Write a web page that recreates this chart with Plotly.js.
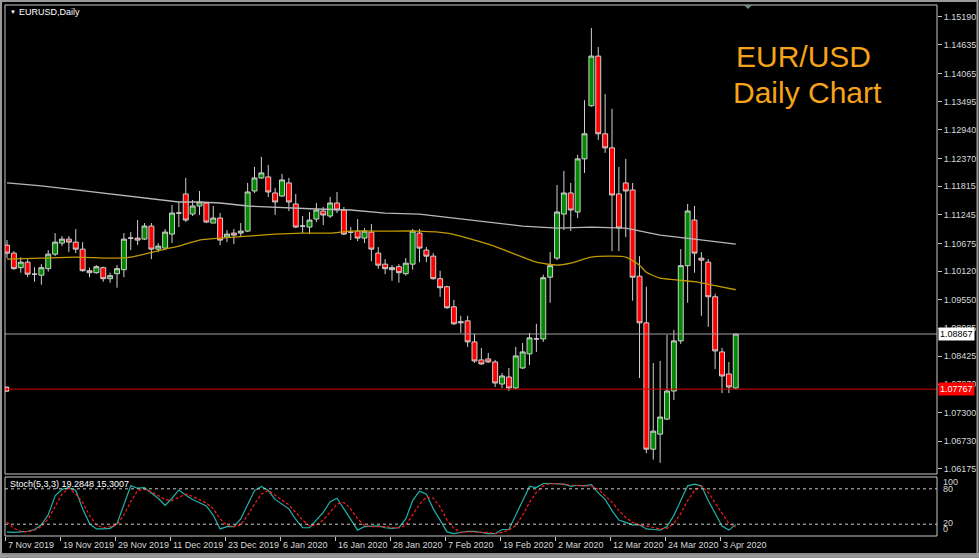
<!DOCTYPE html>
<html><head><meta charset="utf-8">
<script src="https://cdn.plot.ly/plotly-3.0.1.min.js"></script>
<style>html,body{margin:0;padding:0;background:#000;overflow:hidden}#chart{width:979px;height:558px}</style>
</head><body><div id="chart"></div>
<script>
// ---- data ----
const openP = [1.1064,1.1048,1.1019,1.1030,1.1006,1.1004,1.1017,1.1046,1.1068,1.1076,
1.1070,1.1056,1.1013,1.1009,1.1019,1.0997,1.1007,1.1015,1.1078,1.1078,
1.1076,1.1102,1.1056,1.1058,1.1086,1.1128,1.1166,1.1126,1.1142,1.1148,
1.1108,1.1118,1.1080,1.1088,1.1088,1.1092,1.1172,1.1198,1.1200,1.1168,
1.1162,1.1188,1.1146,1.1102,1.1100,1.1116,1.1132,1.1122,1.1148,1.1134,
1.1090,1.1092,1.1078,1.1090,1.1048,1.1026,1.1015,1.1021,1.1007,1.1026,
1.1088,1.1054,1.1042,1.0997,1.0981,1.0941,1.0909,1.0913,1.0871,1.0835,
1.0837,1.0831,1.0787,1.0801,1.0779,1.0819,1.0847,1.0877,1.0877,1.1000,
1.1038,1.1126,1.1168,1.1130,1.1236,1.1342,1.1441,1.1286,1.1258,1.1166,
1.1188,1.1174,1.1002,1.0909,1.0657,1.0687,1.0717,1.0773,1.0873,1.1023,
1.1114,1.1038,1.1030,1.0961,1.0851,1.0807,1.0779];
const highP = [1.1074,1.1052,1.1040,1.1036,1.1020,1.1026,1.1054,1.1088,1.1082,1.1082,
1.1096,1.1070,1.1019,1.1024,1.1021,1.1009,1.1024,1.1088,1.1090,1.1114,
1.1108,1.1108,1.1068,1.1096,1.1144,1.1150,1.1198,1.1154,1.1172,1.1150,
1.1142,1.1128,1.1094,1.1096,1.1108,1.1188,1.1220,1.1240,1.1224,1.1178,
1.1206,1.1198,1.1166,1.1122,1.1130,1.1148,1.1140,1.1160,1.1170,1.1140,
1.1100,1.1116,1.1098,1.1106,1.1060,1.1036,1.1024,1.1026,1.1038,1.1096,
1.1096,1.1060,1.1048,1.1013,1.0983,1.0955,1.0923,1.0923,1.0887,1.0859,
1.0849,1.0835,1.0809,1.0819,1.0861,1.0869,1.0889,1.0907,1.1005,1.1050,
1.1184,1.1212,1.1188,1.1244,1.1353,1.1497,1.1459,1.1365,1.1336,1.1220,
1.1236,1.1188,1.1042,1.0981,1.0829,1.0833,1.0885,1.0895,1.1056,1.1146,
1.1142,1.1050,1.1036,1.0967,1.0859,1.0831,1.0887];
const lowP = [1.1038,1.1015,1.1009,1.1000,1.0991,1.0985,1.1011,1.1042,1.1062,1.1050,
1.1048,1.1011,1.1000,1.1007,1.0991,1.0989,1.0979,1.1000,1.1054,1.1064,
1.1074,1.1036,1.1050,1.1054,1.1068,1.1100,1.1110,1.1122,1.1124,1.1108,
1.1108,1.1064,1.1070,1.1066,1.1080,1.1090,1.1168,1.1196,1.1160,1.1124,
1.1160,1.1132,1.1098,1.1088,1.1086,1.1110,1.1104,1.1118,1.1128,1.1084,
1.1074,1.1072,1.1068,1.1032,1.1017,1.1006,1.0993,1.0989,1.1003,1.1015,
1.1030,1.1030,1.0995,1.0961,1.0937,1.0905,1.0889,1.0861,1.0829,1.0825,
1.0829,1.0781,1.0779,1.0773,1.0777,1.0817,1.0825,1.0851,1.0871,1.0949,
1.1034,1.1094,1.1092,1.1118,1.1208,1.1340,1.1274,1.1248,1.1052,1.1052,
1.1080,1.0953,1.0799,1.0649,1.0636,1.0630,1.0715,1.0755,1.0867,1.0949,
1.1009,1.0923,1.0901,1.0817,1.0769,1.0769,1.0777];
const closeP = [1.1048,1.1017,1.1030,1.1006,1.1006,1.1019,1.1046,1.1070,1.1076,1.1070,
1.1056,1.1013,1.1009,1.1021,1.0997,1.1003,1.1017,1.1076,1.1078,1.1074,
1.1102,1.1056,1.1062,1.1090,1.1128,1.1128,1.1114,1.1142,1.1150,1.1110,
1.1118,1.1074,1.1086,1.1084,1.1092,1.1170,1.1198,1.1208,1.1170,1.1150,
1.1194,1.1150,1.1100,1.1102,1.1114,1.1134,1.1124,1.1148,1.1134,1.1086,
1.1090,1.1078,1.1092,1.1056,1.1024,1.1017,1.1019,1.1009,1.1028,1.1092,
1.1058,1.1042,1.0997,1.0979,1.0939,1.0907,1.0911,1.0871,1.0833,1.0827,
1.0831,1.0789,1.0803,1.0779,1.0843,1.0851,1.0879,1.0877,1.0999,1.1023,
1.1130,1.1168,1.1134,1.1236,1.1286,1.1441,1.1286,1.1258,1.1164,1.1098,
1.1172,1.1000,1.0909,1.0657,1.0693,1.0721,1.0773,1.0873,1.1023,1.1132,
1.1048,1.1034,1.0961,1.0853,1.0803,1.0781,1.08867];

const maSlowBars = [0,5,10,15,20,25,28,31,35,38,42,45,50,55,60,65,70,75,80,85,90,95,100,106];
const maSlow = [1.1188,1.1182,1.1174,1.1166,1.1158,1.1150,1.1150,1.1148,1.1142,1.1140,1.1138,1.1136,1.1134,1.1128,1.1126,1.1118,1.1110,1.1102,1.1098,1.1100,1.1098,1.1084,1.1076,1.1066];
const maFast = [1.1036,1.1038,1.1040,1.1038,1.1040,1.1046,1.1056,1.1062,1.1074,1.1078,1.1082,1.1086,1.1088,1.1088,1.1092,1.1092,1.1092,1.1088,1.1078,1.1066,1.1056,1.1040,1.1030,1.1024,1.1028,1.1040,1.1042,1.1040,1.1024,1.1010,1.0998,1.0995,1.0991,1.0983,1.0975];
const maFastBars = [0,5,10,15,18,20,23,25,28,31,35,39,43,47,50,55,60,64,67,70,72,75,77,80,82,85,88,90,92,93,95,97,100,103,106];

const stochK = [7,6,7,8,11,19,36,68,79,82,77,46,21,12,12,13,21,54,85,81,
82,73,64,52,64,78,69,62,57,51,35,12,16,16,29,54,77,84,77,62,
54,46,28,14,14,27,40,58,64,46,27,10,16,17,17,14,13,14,29,60,
76,71,46,27,7,4,6,8,8,6,4,4,11,11,35,60,84,82,89,89,
89,88,84,86,85,87,73,62,43,27,23,19,19,12,11,10,16,35,60,85,
88,85,60,38,17,10,19.2848];
const stochD = [24,13,8,7,10,16,29,49,71,81,71,57,35,19,14,16,19,36,58,77,
79,75,68,62,60,66,71,67,62,56,46,29,18,16,19,35,54,71,77,69,
62,53,40,27,17,19,27,41,54,57,46,29,18,16,16,16,14,14,18,35,
54,66,64,49,27,13,6,7,7,7,6,4,6,10,18,35,57,74,85,89,
89,88,86,85,85,85,79,68,57,43,31,23,19,17,14,12,13,21,38,60,
77,85,74,57,38,21,15.3007];

const priceTicks = [1.15190,1.14635,1.14065,1.13495,1.12940,1.12370,1.11815,1.11245,1.10675,1.10120,1.09550,1.08985,1.08425,1.07870,1.07300,1.06730,1.06175];
const tickBars = [0,8,16,24,32,40,48,56,64,72,80,88,96,104];
const tickLabels = ["7 Nov 2019","19 Nov 2019","29 Nov 2019","11 Dec 2019","23 Dec 2019","6 Jan 2020","16 Jan 2020","28 Jan 2020","7 Feb 2020","19 Feb 2020","2 Mar 2020","12 Mar 2020","24 Mar 2020","3 Apr 2020"];
const stochLevels = [100,80,20,0];
const stochLevelShift = [-5,0,1,7];
const bidPrice = 1.08867;
const linePrice = 1.07767;

// ---- layout helpers ----
const W=979,H=558,L=5,R=42,T=5,B=22;
const PW=W-L-R, PH=H-T-B;
const px = v => (v-L)/PW;
const py = v => (H-B-v)/PH;
const FONT = "Liberation Sans, Arial, sans-serif";
const TXT = "#d8d8d8";
const bars = openP.map((_,i)=>i);

const traces = [
  {type:'scatter',mode:'lines',x:maSlowBars,y:maSlow,line:{color:'#b8b8b8',width:1.3},hoverinfo:'skip',xaxis:'x',yaxis:'y'},
  {type:'scatter',mode:'lines',x:maFastBars,y:maFast,line:{color:'#c09a00',width:1.3,shape:'spline',smoothing:0.6},hoverinfo:'skip',xaxis:'x',yaxis:'y'},
  {type:'candlestick',x:bars,open:openP,high:highP,low:lowP,close:closeP,xaxis:'x',yaxis:'y',
   increasing:{line:{color:'#d0d0d0',width:1},fillcolor:'#008a00'},
   decreasing:{line:{color:'#d0d0d0',width:1},fillcolor:'#ff0000'},
   whiskerwidth:0,hoverinfo:'skip'},
  {type:'scatter',mode:'lines',x:bars,y:stochK,line:{color:'#20b2aa',width:1.2},hoverinfo:'skip',xaxis:'x',yaxis:'y2'},
  {type:'scatter',mode:'lines',x:bars,y:stochD,line:{color:'#ff1a1a',width:1.2,dash:'3px,2px'},hoverinfo:'skip',xaxis:'x',yaxis:'y2'},
  {type:'scatter',mode:'markers',x:[-0.05],y:[linePrice],marker:{symbol:'square',size:4,color:'#ff0000',line:{color:'#ffffff',width:1}},hoverinfo:'skip',xaxis:'x',yaxis:'y'}
];

const shapes = [
  {type:'line',xref:'paper',x0:0,x1:1,yref:'y',y0:bidPrice,y1:bidPrice,line:{color:'#a0a0a0',width:1}},
  {type:'line',xref:'paper',x0:0,x1:1,yref:'y',y0:linePrice,y1:linePrice,line:{color:'#e00000',width:1}},
  {type:'line',xref:'paper',x0:0,x1:1,yref:'y2',y0:stochLevels[1],y1:stochLevels[1],line:{color:'#c8c8c8',width:1,dash:'3px,3px'}},
  {type:'line',xref:'paper',x0:0,x1:1,yref:'y2',y0:stochLevels[2],y1:stochLevels[2],line:{color:'#c8c8c8',width:1,dash:'3px,3px'}},
  {type:'rect',xref:'paper',yref:'paper',x0:0,x1:1,y0:py(474),y1:py(5),line:{color:'#c8c8c8',width:1}},
  {type:'rect',xref:'paper',yref:'paper',x0:0,x1:1,y0:0,y1:py(477),line:{color:'#c8c8c8',width:1}},
  {type:'rect',xref:'paper',yref:'paper',x0:px(0),x1:px(979),y0:py(558),y1:py(553),fillcolor:'#8a8a8a',line:{width:0}},
  {type:'rect',xref:'paper',yref:'paper',x0:px(1),x1:px(977.5),y0:py(556),y1:py(1),line:{color:'#9a9a9a',width:2}},
  {type:'path',xref:'paper',yref:'paper',path:`M ${px(744)} ${py(5)} L ${px(752)} ${py(5)} L ${px(748)} ${py(9)} Z`,fillcolor:'#6e8a8a',line:{width:0}}
];

const annotations = [
  {xref:'paper',yref:'paper',x:px(8),y:py(12),xanchor:'left',yanchor:'middle',showarrow:false,text:'\u25BC',font:{family:FONT,size:6,color:'#ffffff'}},
  {xref:'paper',yref:'paper',x:px(17),y:py(12),xanchor:'left',yanchor:'middle',showarrow:false,text:'EURUSD,Daily',font:{family:FONT,size:9,color:'#ffffff'}},
  {xref:'paper',yref:'paper',x:px(734),y:py(56),xanchor:'left',yanchor:'middle',showarrow:false,text:'EUR/USD',font:{family:FONT,size:30,color:'#f5a31a'}},
  {xref:'paper',yref:'paper',x:px(731),y:py(93),xanchor:'left',yanchor:'middle',showarrow:false,text:'Daily Chart',font:{family:FONT,size:30,color:'#f5a31a'}},
  {xref:'paper',yref:'paper',x:px(8),y:py(484),xanchor:'left',yanchor:'middle',showarrow:false,text:'Stoch(5,3,3) '+stochK[stochK.length-1].toFixed(4)+' '+stochD[stochD.length-1].toFixed(4),font:{family:FONT,size:9,color:'#ffffff'}},
  {xref:'paper',yref:'y',x:px(938),y:bidPrice,xanchor:'left',yanchor:'middle',showarrow:false,text:bidPrice.toFixed(5),bgcolor:'#ffffff',borderpad:1,font:{family:FONT,size:9,color:'#000000'}},
  {xref:'paper',yref:'y',x:px(938),y:linePrice,xanchor:'left',yanchor:'middle',showarrow:false,text:linePrice.toFixed(5),bgcolor:'#ff0000',borderpad:1,font:{family:FONT,size:9,color:'#ffffff'}}
];
stochLevels.forEach((v,i)=>annotations.push({xref:'paper',yref:'y2',x:px(941),y:v,yshift:stochLevelShift[i],xanchor:'left',yanchor:'middle',showarrow:false,text:String(v),font:{family:FONT,size:9,color:TXT}}));
tickBars.forEach((b,i)=>annotations.push({xref:'x',yref:'paper',x:b-0.15,y:py(545),xanchor:'left',yanchor:'middle',showarrow:false,text:tickLabels[i],font:{family:FONT,size:9,color:TXT}}));

const layout = {
  width:W,height:H,margin:{l:L,r:R,t:T,b:B,pad:0},
  paper_bgcolor:'#000000',plot_bgcolor:'#000000',showlegend:false,
  boxgap:0.2,boxgroupgap:0.1,dragmode:false,hovermode:false,
  xaxis:{range:[-0.29,135.27],anchor:'y2',showgrid:false,zeroline:false,showline:false,
    tickvals:tickBars.map(b=>b-0.15),showticklabels:false,ticks:'outside',ticklen:4,tickcolor:'#c8c8c8',
    rangeslider:{visible:false},fixedrange:true},
  yaxis:{domain:[py(474),1],range:[1.06075,1.15429],side:'right',anchor:'x',showgrid:false,zeroline:false,showline:false,
    tickvals:priceTicks,ticktext:priceTicks.map(v=>v.toFixed(5)),ticks:'outside',ticklen:4,tickcolor:'#c8c8c8',
    tickfont:{family:FONT,size:9,color:TXT},fixedrange:true},
  yaxis2:{domain:[0,py(477)],range:[0,100],side:'right',anchor:'x',showgrid:false,zeroline:false,showline:false,
    showticklabels:false,ticks:'',fixedrange:true},
  shapes:shapes,annotations:annotations
};
Plotly.newPlot('chart',traces,layout,{displayModeBar:false,staticPlot:true});
</script></body></html>
